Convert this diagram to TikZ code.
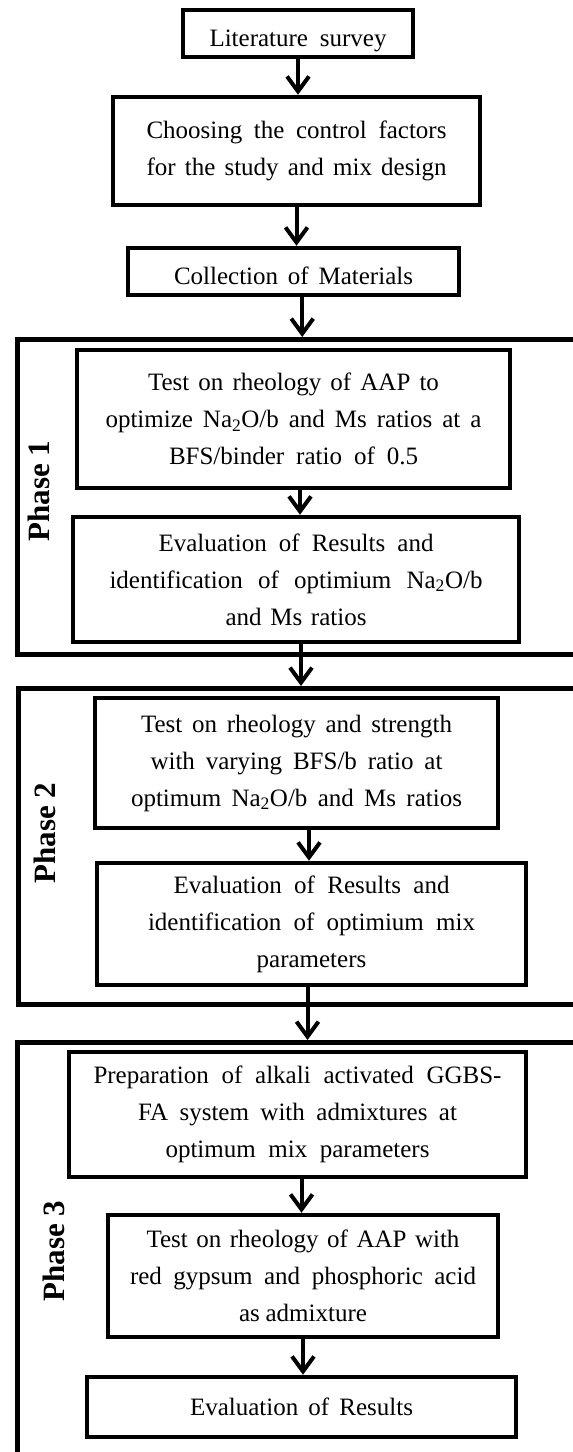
\documentclass[tikz,border=0pt]{standalone}
\usepackage{fontspec}
\setmainfont{Liberation Serif}
\usetikzlibrary{arrows.meta}
\newcommand\jl[2]{\makebox[#1pt][s]{#2}}
\newcommand\lowr[2]{\raisebox{-#1pt}[\height][\depth]{#2}}
\tikzset{
  box/.style={draw, line width=4.5pt, rectangle, inner sep=0pt, align=center,
    font=\fontsize{25}{37}\selectfont},
  phasebox/.style={draw, line width=4.5pt, rectangle, inner sep=0pt, anchor=north west, minimum width=570pt},
  phaselabel/.style={rotate=90, inner sep=0pt, font=\fontsize{31}{31}\selectfont\bfseries},
  arr/.style={line width=4pt, -{Straight Barb[length=15pt,width=22pt,line width=4pt]}}
}
\begin{document}
\begin{tikzpicture}[x=1pt,y=-1pt]
\path[use as bounding box] (0,0) rectangle (573,1452);
\fill[white] (0,0) rectangle (573,1452);
\clip (0,0) rectangle (573,1452);

\node[box, minimum width=230pt, minimum height=47pt] (lit) at (298,33.5) {\lowr{7}{\jl{177}{Literature survey}}};
\node[box, minimum width=367pt, minimum height=108pt] (choose) at (296.5,151) {\jl{300}{Choosing the control factors}\\\jl{300}{for the study and mix design}};
\node[box, minimum width=331pt, minimum height=47pt] (coll) at (293.5,271.5) {\lowr{4}{\jl{239}{Collection of Materials}}};

\node[phasebox, minimum height=315pt] (p1) at (15,337) {};
\node[phaselabel] (l1) at (39,491) {Phase 1};
\node[box, minimum width=433pt, minimum height=138pt] (t1) at (293.5,419) {\jl{291}{Test on rheology of AAP to}\\\jl{376}{optimize Na\textsubscript{2}O/b and Ms ratios at a}\\\jl{249}{BFS/binder ratio of 0.5}};
\node[box, minimum width=446pt, minimum height=125pt] (e1) at (296,579.5) {\jl{275}{Evaluation of Results and}\\\jl{373}{identification of optimium Na\textsubscript{2}O/b}\\\jl{141}{and Ms ratios}};

\node[phasebox, minimum height=316pt] (p2) at (16,686) {};
\node[phaselabel] (l2) at (45,833) {Phase 2};
\node[box, minimum width=403pt, minimum height=130pt] (t2) at (296.5,763) {\jl{311}{Test on rheology and strength}\\\jl{292}{with varying BFS/b ratio at}\\\jl{331}{optimum Na\textsubscript{2}O/b and Ms ratios}};
\node[box, minimum width=429pt, minimum height=122pt] (e2) at (311.5,924) {\jl{276}{Evaluation of Results and}\\\jl{327}{identification of optimium mix}\\parameters};

\node[phasebox, minimum height=440pt] (p3) at (15,1040) {};
\node[phaselabel] (l3) at (54,1251) {Phase 3};
\node[box, minimum width=457pt, minimum height=125pt] (prep) at (297.5,1114.5) {\jl{408}{Preparation of alkali activated GGBS-}\\\jl{319}{FA system with admixtures at}\\\jl{264}{optimum mix parameters}};
\node[box, minimum width=390pt, minimum height=122pt] (t3) at (303,1276) {\jl{313}{Test on rheology of AAP with}\\\jl{346}{red gypsum and phosphoric acid}\\\jl{128}{as admixture}};
\node[box, minimum width=429pt, minimum height=60pt] (e3) at (301.5,1407) {\jl{223}{Evaluation of Results}};

\draw[arr] (lit.south) -- (lit.south |- choose.north);
\draw[arr] (choose.south) -- (choose.south |- coll.north);
\draw[arr] (coll.south -| p1.north) -- (p1.north);
\draw[arr] ([xshift=6.5pt]t1.south) -- ([xshift=6.5pt]t1.south |- e1.north);
\draw[arr] ([xshift=5pt]e1.south) -- ([xshift=5pt]e1.south |- p2.north);
\draw[arr] ([xshift=12.5pt]t2.south) -- ([xshift=12.5pt]t2.south |- e2.north);
\draw[arr] ([xshift=-4pt]e2.south) -- ([xshift=-4pt]e2.south |- p3.north);
\draw[arr] ([xshift=4pt]prep.south) -- ([xshift=4pt]prep.south |- t3.north);
\draw[arr] (t3.south) -- (t3.south |- e3.north);
\end{tikzpicture}
\end{document}
